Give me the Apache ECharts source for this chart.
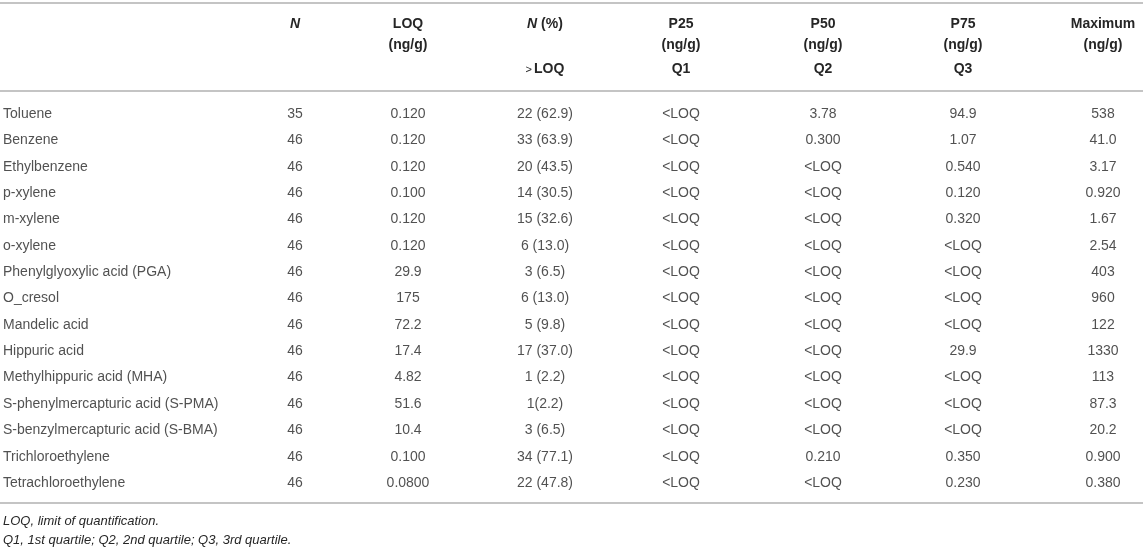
<!DOCTYPE html>
<html>
<head>
<meta charset="utf-8">
<title>LOQ table</title>
<script src="https://cdn.jsdelivr.net/npm/echarts@6/dist/echarts.min.js"></script>
<style>
html, body { margin: 0; padding: 0; background: #fff; }
#main { width: 1143px; height: 552px; }
</style>
</head>
<body>
<div id="main"></div>
<script>
// ---------------- data ----------------
var compounds = ['Toluene', 'Benzene', 'Ethylbenzene', 'p-xylene', 'm-xylene', 'o-xylene',
	'Phenylglyoxylic acid (PGA)', 'O_cresol', 'Mandelic acid', 'Hippuric acid',
	'Methylhippuric acid (MHA)', 'S-phenylmercapturic acid (S-PMA)', 'S-benzylmercapturic acid (S-BMA)',
	'Trichloroethylene', 'Tetrachloroethylene'];
var nTotal = [35, 46, 46, 46, 46, 46, 46, 46, 46, 46, 46, 46, 46, 46, 46];
var loqValues = ['0.120', '0.120', '0.120', '0.100', '0.120', '0.120', '29.9', '175', '72.2', '17.4',
	'4.82', '51.6', '10.4', '0.100', '0.0800'];
var nAboveLoq = ['22 (62.9)', '33 (63.9)', '20 (43.5)', '14 (30.5)', '15 (32.6)', '6 (13.0)', '3 (6.5)',
	'6 (13.0)', '5 (9.8)', '17 (37.0)', '1 (2.2)', '1(2.2)', '3 (6.5)', '34 (77.1)', '22 (47.8)'];
var p25Values = ['<LOQ', '<LOQ', '<LOQ', '<LOQ', '<LOQ', '<LOQ', '<LOQ', '<LOQ', '<LOQ', '<LOQ',
	'<LOQ', '<LOQ', '<LOQ', '<LOQ', '<LOQ'];
var p50Values = ['3.78', '0.300', '<LOQ', '<LOQ', '<LOQ', '<LOQ', '<LOQ', '<LOQ', '<LOQ', '<LOQ',
	'<LOQ', '<LOQ', '<LOQ', '0.210', '<LOQ'];
var p75Values = ['94.9', '1.07', '0.540', '0.120', '0.320', '<LOQ', '<LOQ', '<LOQ', '<LOQ', '29.9',
	'<LOQ', '<LOQ', '<LOQ', '0.350', '0.230'];
var maxValues = ['538', '41.0', '3.17', '0.920', '1.67', '2.54', '403', '960', '122', '1330',
	'113', '87.3', '20.2', '0.900', '0.380'];

var headerLine1 = ['', '{i|N}', 'LOQ', '{i|N} (%)', 'P25', 'P50', 'P75', 'Maximum'];
var headerLine2 = ['', '', '(ng/g)', '', '(ng/g)', '(ng/g)', '(ng/g)', '(ng/g)'];
var headerLine3 = ['', '', '', '{s|>}LOQ', 'Q1', 'Q2', 'Q3', ''];
var footnotes = ['LOQ, limit of quantification.',
	'Q1, 1st quartile; Q2, 2nd quartile; Q3, 3rd quartile.'];

// ---------------- layout ----------------
var W = 1143, H = 552;
var FONT = '"Liberation Sans", Arial, Helvetica, sans-serif';
var TEXT_COLOR = '#262626';
var RULE_COLOR = '#c4c4c4';
var colX = [3, 295, 408, 545, 681, 823, 963, 1103];
var headerY = [24, 45, 69];
var ruleY = [3, 91, 503];
var footY = [521, 540];

/**
 * one label per cell, placed on the row band of the category axis
 */
function buildCells() {
	var columns = [compounds, nTotal, loqValues, nAboveLoq, p25Values, p50Values, p75Values, maxValues];
	var res = [];
	for (var i = 0; i < compounds.length; i++) {
		for (var j = 0; j < columns.length; j++) {
			res.push({
				value: [colX[j], compounds[i]],
				text: String(columns[j][i]),
				label: { align: j == 0 ? 'left' : 'center' }
			});
		}
	}
	return res;
}

/**
 * header texts, rules and footnotes
 */
function headerGraphics() {
	var lines = [headerLine1, headerLine2, headerLine3];
	var items = [];
	for (var r = 0; r < lines.length; r++) {
		for (var j = 0; j < lines[r].length; j++) {
			if (!lines[r][j]) continue;
			items.push({
				type: 'text',
				silent: true,
				style: {
					text: lines[r][j],
					x: colX[j],
					y: headerY[r],
					align: 'center',
					verticalAlign: 'middle',
					fontFamily: FONT,
					fontSize: 14,
					fontWeight: 'bold',
					fill: TEXT_COLOR,
					rich: {
						i: { fontFamily: FONT, fontSize: 14, fontWeight: 'bold', fontStyle: 'italic', fill: TEXT_COLOR },
						s: { fontFamily: FONT, fontSize: 11, fontWeight: 'normal', fill: TEXT_COLOR, padding: [2, 2, 0, 0] }
					}
				}
			});
		}
	}
	for (var k = 0; k < ruleY.length; k++) {
		items.push({
			type: 'line',
			silent: true,
			shape: { x1: 0, y1: ruleY[k], x2: W, y2: ruleY[k] },
			style: { stroke: RULE_COLOR, lineWidth: 2 }
		});
	}
	for (var f = 0; f < footnotes.length; f++) {
		items.push({
			type: 'text',
			silent: true,
			style: {
				text: footnotes[f],
				x: colX[0],
				y: footY[f],
				align: 'left',
				verticalAlign: 'middle',
				fontFamily: FONT,
				fontSize: 13,
				fontStyle: 'italic',
				fill: TEXT_COLOR
			}
		});
	}
	return items;
}

var myChart = echarts.init(document.getElementById('main'), null, { renderer: 'canvas' });
// row bands: 15 rows, 26.36 px each, first centre at y=114
var rowH = 26.36;
var gridTop = 114 - rowH / 2;
var option = {
	animation: false,
	backgroundColor: '#fff',
	grid: { left: 0, right: 0, top: gridTop, height: rowH * compounds.length },
	xAxis: { type: 'value', min: 0, max: W, show: false },
	yAxis: {
		type: 'category',
		data: compounds,
		inverse: true,
		show: false
	},
	graphic: headerGraphics(),
	series: [{
		type: 'scatter',
		symbolSize: 0,
		silent: true,
		data: buildCells(),
		label: {
			show: true,
			position: 'inside',
			verticalAlign: 'middle',
			fontFamily: FONT,
			fontSize: 14,
			color: TEXT_COLOR,
			formatter: function (p) { return p.data.text; }
		}
	}]
};
myChart.setOption(option);
</script>
</body>
</html>
